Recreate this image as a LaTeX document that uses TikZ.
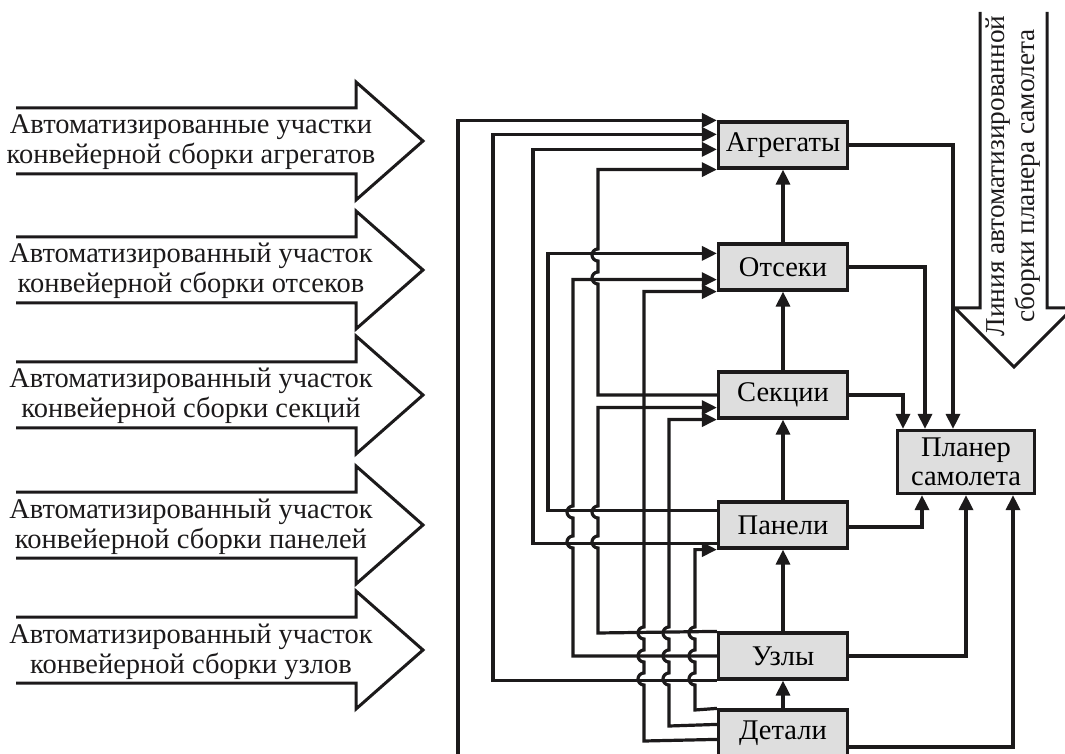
\documentclass[tikz,border=0pt]{standalone}
\usepackage{fontspec}
\setmainfont{Liberation Serif}
\usetikzlibrary{arrows.meta}
\definecolor{INK}{HTML}{1C1A1B}
\definecolor{BOXF}{HTML}{DEDEDE}

\begin{document}
\begin{tikzpicture}[x=1pt,y=1pt]
\tikzset{blk/.style={draw=INK,fill=BOXF,line width=3.2pt,minimum width=129pt,minimum height=46pt,inner sep=0pt,font=\fontsize{28.5}{28.5}\selectfont},
 ln/.style={line width=3.2pt,INK},arr/.style={ln,-{Triangle[length=15pt,width=14pt]}},
 hollow/.style={line width=3pt,INK,line join=miter},txt/.style={align=center,inner sep=0pt,font=\fontsize{28.5}{30}\selectfont,INK}}
\useasboundingbox (0,0) rectangle (1065,753);
\clip (0,0) rectangle (1065,753);
% left: sections of the line
\foreach \yc/\txt [count=\i] in {612/{Автоматизированные участки\\конвейерной сборки агрегатов},
 483/{Автоматизированный участок\\конвейерной сборки отсеков},358/{Автоматизированный участок\\конвейерной сборки секций},
 228/{Автоматизированный участок\\конвейерной сборки панелей},103/{Автоматизированный участок\\конвейерной сборки узлов}}{
 \draw[hollow] (16,\yc+33)--(356,\yc+33)--(356,\yc+59)--(423,\yc)--(356,\yc-59)--(356,\yc-33)--(16,\yc-33);
 \node[txt,anchor=base] (ar\i) at (191,\yc-23) {\txt};}
% boxes
\node[blk] (agr) at (783,608) {Агрегаты};
\node[blk] (ots) at (783,486) {Отсеки};
\node[blk] (sek) at (783,358) {Секции};
\node[blk] (pan) at (783,228) {Панели};
\node[blk] (uzl) at (783,97) {Узлы};
\node[blk] (det) at (783,20) {Детали};
\node[blk,minimum width=137pt,minimum height=63pt,align=center] (pla) at (966,291) {Планер\\самолета};
% main line
\draw[hollow] (980,741)--(980,445)--(955,445)--(1014,386)--(1073,445)--(1047,445)--(1047,741);
\node[txt,rotate=90,font=\fontsize{27.3}{30}\selectfont] (linetxt) at (1013,577) {Линия автоматизированной\\сборки планера самолета};
% up the chain
\foreach \a/\b in {ots/agr,sek/ots,pan/sek,uzl/pan,det/uzl} \draw[arr] (\a.north)--(\b.south);
% to agr
\draw[arr] ([yshift=-14]det.south west) -| (458,600) |- (agr.north west);
\draw[arr] (uzl.south west) -| (493,600) |- ([yshift=-14]agr.north west);
\draw[arr] ([yshift=6]pan.south west) -| (533,500) |- ([yshift=-29]agr.north west);
\draw[arr] (sek.west) -- (598,358) \foreach \y in {475,498}{-- (598,\y-6) arc[start angle=-90,end angle=-270,radius=6]} |- (agr.south west);
% to ots
\draw[arr] ([yshift=-10]pan.north west) -| (548,400) |- ([yshift=-11]ots.north west);
\draw[arr] (uzl.west) -- (573,97) \foreach \y in {211,241}{-- (573,\y-6) arc[start angle=-90,end angle=-270,radius=6]} |- ([yshift=12]ots.south west);
\draw[arr] ([yshift=-31]det.north west) -- (644,12) \foreach \y in {74,97,120}{-- (644,\y-6) arc[start angle=-90,end angle=-270,radius=6]} |- (ots.south west);
% to sek and pan
\draw[arr] (uzl.north west) -- (598,120) \foreach \y in {211,241}{-- (598,\y-6) arc[start angle=-90,end angle=-270,radius=6]} |- ([yshift=12]sek.south west);
\draw[arr] ([yshift=-16]det.north west) -- (669,27) \foreach \y in {74,97,120}{-- (669,\y-6) arc[start angle=-90,end angle=-270,radius=6]} |- (sek.south west);
\draw[arr] (det.north west) -- (695,43) \foreach \y in {74,97,120}{-- (695,\y-6) arc[start angle=-90,end angle=-270,radius=6]} |- (pan.south west);
% to pla
\draw[arr] (agr.east) -| ([xshift=-13]pla.north);
\draw[arr] (ots.east) -| ([xshift=-41]pla.north);
\draw[arr] (sek.east) -| ([xshift=-63]pla.north);
\draw[arr] ([yshift=-2]pan.east) -| ([xshift=-44]pla.south);
\draw[arr] (uzl.east) -| (pla.south);
\draw[arr] ([yshift=-14]det.east) -| ([xshift=47]pla.south);
\end{tikzpicture}
\end{document}
